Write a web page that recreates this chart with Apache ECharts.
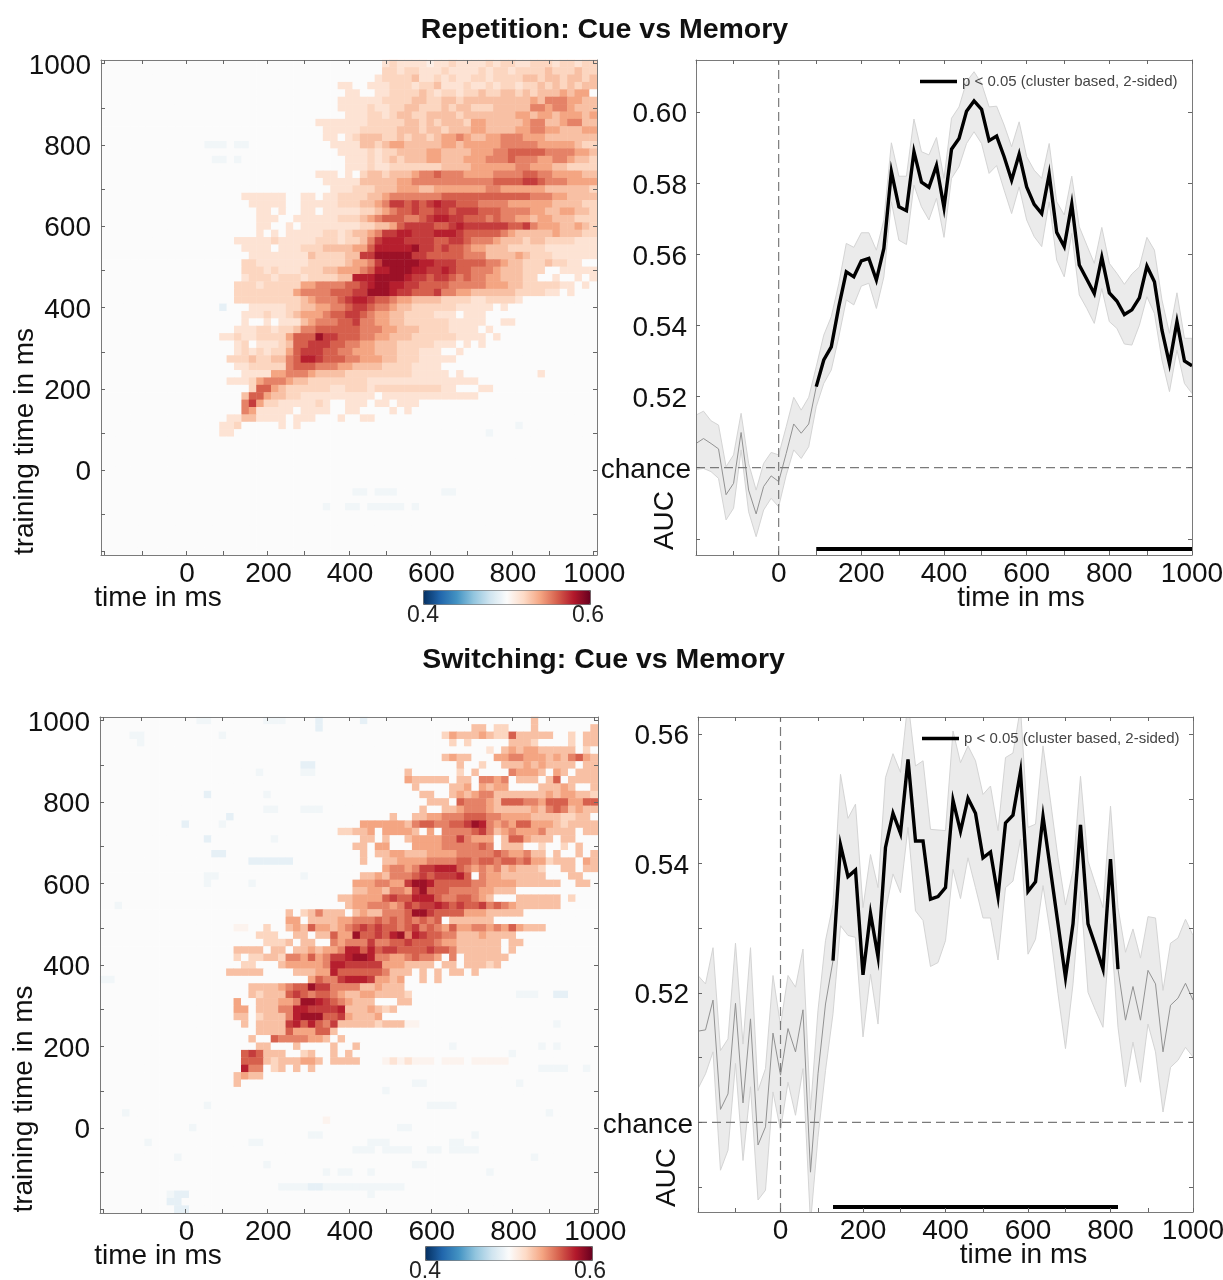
<!DOCTYPE html>
<html><head><meta charset="utf-8">
<script src="https://cdn.jsdelivr.net/npm/echarts@6/dist/echarts.min.js"></script>
<style>html,body{margin:0;padding:0;background:#fff}#c{width:1223px;height:1280px}</style>
</head><body><div id="c"></div>
<script>
const times=[-200,-181.8,-163.6,-145.5,-127.3,-109.1,-90.9,-72.7,-54.5,-36.4,-18.2,0,18.2,36.4,54.5,72.7,90.9,109.1,127.3,145.5,163.6,181.8,200,218.2,236.4,254.5,272.7,290.9,309.1,327.3,345.5,363.6,381.8,400,418.2,436.4,454.5,472.7,490.9,509.1,527.3,545.5,563.6,581.8,600,618.2,636.4,654.5,672.7,690.9,709.1,727.3,745.5,763.6,781.8,800,818.2,836.4,854.5,872.7,890.9,909.1,927.3,945.5,963.6,981.8,1000];
const tickTimes=[-200,-109,0,91,200,291,400,491,600,691,800,891,1000];
const timeLabels=[0,200,400,600,800,1000];
const aucTicksTop=[0.48,0.5,0.52,0.54,0.56,0.58,0.6];
const aucLabelsTop=[0.5,0.52,0.54,0.56,0.58,0.6];
const aucTicksBottom=[0.49,0.5,0.51,0.52,0.53,0.54,0.55,0.56];
const aucLabelsBottom=[0.5,0.52,0.54,0.56];
const titleTop="Repetition: Cue vs Memory";
const titleBottom="Switching: Cue vs Memory";
const legendLabel="p < 0.05 (cluster based, 2-sided)";

// colour levels of the time-generalisation cells
const levelValues={'.':0.5,'+':0.505,a:0.495,b:0.49,'0':0.508,'1':0.515,'2':0.522,'3':0.53,'4':0.54,'5':0.55,'6':0.56,'7':0.57,'8':0.578,'9':0.586};

// rows from training time 1000 (top) down to -200; "column:levels"
const repetitionRows=[
"38:12111101121111212211222122122",
"38:22122111211112122122223222322",
"37:122223112121122122223323323323",
"32:11..1112221223111211212212232323233",
"33:11..11222232122122322332323334344",
"32:11111122223322332333333333435554433",
"32:11112112233222323322233333554554333",
"33:1112212332233332333333344344344434",
"29:11111112222233232333244333334553345533",
"30:11111222223332332333443333445544333443",
"30:11.1233322323323445433445554443333333",
"14:aaa.aa 31:111133234433333443444445555544444322",
"32:11112122333344333344455666665555443",
"15:aa.a 33:1112123233344333444555655544554332",
"32:.1112112222222333344444455444332222",
"29:111.1.233233345565554444555566554444333",
"30:1111133333445555555555566667765554444",
"31:1112223334443344444445544444433333322",
"19:111111..11.112222334555555566666666666655544333322",
"20:11111..1111122233457767678776665555444444333322",
"21:11.1..11.1111122345667667767776665555443344332222",
"21:111..1111112223456665567887766656554434433322222",
"21:11..1.11111111223346777766787777776675444334322222",
"21:1.1.111112212334577887778887666665433333433322121",
"18:11111211111222122357888777766776555433323322221111",
"19:1111.1112223333446888889776766544333222221111111",
"20:11111111322223377999997766666555333343222111111",
"19:2211111112222234457999998877766665543322232211",
"19:22212111222334445688999887787665554333222..11111",
"19:1222122212222338889999877677656554433322..1..1.1",
"18:2221222224455556678998877666655555444332222211.1.",
"18:22222222455556667799987766675544333333222211.1..",
"18:222222222345556788766544333322221122221",
"16:b 20:111112233445567765543322222211111.1",
"19:11121123444566776544332222111.111.",
"19:1..1.1113455566755443322222211111..11",
"18:111221223556666665554433322221111.1",
"16:112112222466697766655443332222221111.1",
"18:12.111236677766554433322222111.1.1",
"18:1212122467776655444333222111..1",
"17:2223223356887666554443322211111",
"18:1122222566655544333322221111",
"19:1111445554333322222222211111.1..........1",
"17:1112455543322222222111111111111111",
"20:2664322222211222122222222211...11",
"19:366433221111111111.1111111111111",
"19:574221111121..111.11.111",
"19:5411111.1111..11....1.1",
"17:11331111.111...1..11",
"16:112.....1.1 56:a",
"16:11 52:a",
"","","","","","","",
"34:aa.aaa 46:aa",
"",
"30:a..aa.aaaaa.a",
"","","","","","",""];

const switchingRows=[
"13:aa 22:aaa 29:b 35:b 58:3",
"29:b 50:33.22...3.......3",
"4:aa 16:a 46:243334322633333..2.33",
"5:a 47:2.2.....3332....2.33",
"52:1.3434433333.2.2..1",
"46:3433...44554443435643",
"27:bb 48:3..2..3334343333.33",
"21:a 27:aa 41:3......2.3....54443.43.333",
"41:433333.33.5545.333.36.3333",
"42:3....334.4344....33343..3",
"14:b 22:a 43:33..34345533333334344332",
"44:333.6555436665546664466",
"22:aa 27:aaa 43:3..334555433333435653433",
"17:b 39:3..334455566655444433332233",
"11:b 16:a 35:44444435665566798545466444323333",
"32:22334.44443.4.555567534544453333.33",
"14:b 23:a 35:33.3..344445575444.3664333.33",
"34:33.44...44445555565.333..2..2.3..",
"15:bb 35:3.33443334444555556544533.3..3.33",
"20:bbbbbb 35:3..33444455556656656656442333.4333.344",
"38:4554577888654545343332..33.33",
"14:aa 27:a 35:334355567677786.544333333...33",
"14:a 20:a 34:4445544799866666554444333333..33.",
"34:3344355479666555544333",
"32:334444676688865566543...333333.2",
"2:a 33:34455545767787676675654333333",
"25:3.235333.34335556997666644433333",
"25:44.333344555656565656.333333.",
"18:++..2..34364434567676656756546445545464333",
"21:222..33.336449667689587665533343333",
"22:2223.33..54555755667666544333333.33",
"18:3333.33.3343445886867766667665333333.3",
"18:2.22332554645778998554456554.5.333333",
"19:22...344444588777774443333.33.33323",
"17:33333....3334486666665333.3.3.33.3",
"0:aa 28:4655788874434..3.3",
"20:333345669775555334333",
"20:3233367656654334433332 56:aaa 61:bb",
"18:4..3334459987654333...33",
"18:44.3335588777783334323",
"18:33.23335899966743334",
"19:3.33337868657333332333++ 61:a",
"21:33336444663",
"20:3..65555443.3",
"21:33...3....3..3 47:a 59:a 61:a",
"19:676333..23..3.3 55:a",
"19:66632333443.3333 38:+1+1+++.+++.+++++",
"19:855.23.3.3 59:aaaa 65:a",
"18:3433",
"18:3 42:aa 56:a",
"38:a",
"",
"14:a 44:aaaa",
"3:a 60:a",
"30:+",
"12:a 40:aa",
"28:aa 50:a",
"6:a 20:aa 36:aaa 47:aa",
"34:aaa.aaaa..aa.aaaa",
"10:a 58:a",
"22:a 42:aa",
"30:a.aa..a 52:a",
"",
"24:aaaabbaaaaaaaaaaa",
"9:abb 36:a",
"9:bb",
"10:bb"];

// Repetition decoding curve
const repMean=[.5068,.5082,.5068,.5053,.4924,.4956,.5099,.4937,.4870,.4947,.4977,.4961,.5040,.5123,.5097,.5123,.5228,.5303,.5340,.5453,.5551,.5537,.5582,.5589,.5528,.5617,.5833,.5734,.5723,.5889,.5803,.5789,.5850,.5732,.5896,.5926,.6003,.6032,.6008,.5920,.5933,.5875,.5809,.5882,.5790,.5741,.5715,.5826,.5662,.5622,.5742,.5570,.5530,.5490,.5592,.5492,.5469,.5431,.5444,.5478,.5567,.5523,.5387,.5292,.5411,.5300,.5287];
const repUpper=[.5148,.5159,.5132,.5120,.5003,.5036,.5153,.5012,.4937,.5012,.5043,.5036,.5115,.5198,.5162,.5198,.5284,.5373,.5425,.5518,.5631,.5620,.5661,.5661,.5612,.5697,.5914,.5820,.5820,.5981,.5889,.5880,.5929,.5814,.5983,.6015,.6086,.6114,.6081,.6015,.6017,.5964,.5903,.5973,.5875,.5837,.5814,.5912,.5748,.5711,.5820,.5678,.5626,.5575,.5676,.5575,.5547,.5516,.5545,.5565,.5648,.5612,.5472,.5378,.5492,.5364,.5364];
const repLower=[.4995,.4998,.4989,.4970,.4853,.4886,.5050,.4876,.4806,.4881,.4914,.4890,.4979,.5050,.5026,.5059,.5172,.5237,.5275,.5368,.5472,.5458,.5511,.5519,.5448,.5537,.5748,.5640,.5628,.5795,.5734,.5697,.5758,.5648,.5814,.5847,.5912,.5945,.5912,.5828,.5850,.5781,.5715,.5790,.5697,.5650,.5622,.5748,.5584,.5537,.5659,.5486,.5448,.5406,.5504,.5411,.5392,.5348,.5345,.5401,.5481,.5434,.5303,.5214,.5331,.5237,.5209];
const repSigFrom=16, repSigTo=66;
const repSigBar=[[90.9,0.4771],[1000,0.4771]];

// Switching decoding curve
const swiMean=[.5141,.5143,.5189,.5020,.5044,.5184,.5030,.5160,.4965,.4993,.5138,.5073,.5145,.5109,.5174,.4923,.5075,.5183,.5250,.5429,.5380,.5390,.5228,.5323,.5256,.5425,.5478,.5447,.5561,.5435,.5435,.5345,.5349,.5363,.5498,.5450,.5501,.5478,.5409,.5418,.5349,.5463,.5475,.5542,.5357,.5372,.5473,.5390,.5307,.5224,.5307,.5460,.5307,.5273,.5237,.5407,.5237,.5158,.5210,.5158,.5235,.5214,.5109,.5181,.5192,.5215,.5189];
const swiUpper=[.5227,.5214,.5270,.5111,.5129,.5277,.5121,.5270,.5049,.5083,.5227,.5150,.5227,.5209,.5268,.5019,.5173,.5281,.5337,.5538,.5470,.5492,.5332,.5414,.5363,.5533,.5570,.5541,.5651,.5551,.5559,.5453,.5452,.5451,.5605,.5556,.5582,.5559,.5507,.5520,.5451,.5564,.5571,.5641,.5456,.5461,.5582,.5497,.5409,.5336,.5389,.5535,.5404,.5368,.5332,.5489,.5332,.5263,.5299,.5254,.5318,.5316,.5204,.5277,.5285,.5314,.5289];
const swiLower=[.5052,.5075,.5109,.4926,.4957,.5091,.4941,.5055,.4880,.4895,.5047,.4988,.5062,.5011,.5083,.4844,.4977,.5080,.5168,.5304,.5289,.5286,.5132,.5229,.5152,.5327,.5384,.5355,.5456,.5327,.5312,.5241,.5247,.5281,.5391,.5346,.5409,.5363,.5316,.5316,.5251,.5363,.5373,.5438,.5260,.5283,.5366,.5291,.5199,.5114,.5214,.5358,.5201,.5173,.5147,.5307,.5147,.5055,.5124,.5062,.5152,.5109,.5016,.5085,.5096,.5116,.5101];
const swiSigFrom=18, swiSigTo=56;
const swiSigBar=[[127.3,0.4869],[818.2,0.4869]];

const chanceLevel=0.5;

function decodeRows(rows){
  const out=[];
  rows.forEach((r,j)=>{
    const cells=new Array(times.length).fill('.');
    r.split(' ').forEach(seg=>{
      if(!seg.includes(':'))return;
      const [c,s]=seg.split(':');
      [...s].forEach((ch,k)=>{const col=+c+k;if(col<times.length&&ch!=='.')cells[col]=ch;});
    });
    cells.forEach((ch,col)=>out.push([col,times.length-1-j,levelValues[ch]]));
  });
  return out;
}
const FONT='"Liberation Sans",Arial,sans-serif';
const frame={show:true,onZero:false,lineStyle:{color:'#7a7a7a',width:1}};
const tick=(vals)=>({show:true,inside:true,length:4,customValues:vals,lineStyle:{color:'#666',width:1}});
const lblStyle=(vals,fmt,m,extra)=>Object.assign({show:true,customValues:vals,formatter:fmt,margin:m,fontFamily:FONT,fontSize:28,color:'#111',hideOverlap:false,showMinLabel:true,showMaxLabel:true},extra||{});
const num=v=>String(Math.round(v));

const xAxis=[],yAxis=[],grid=[],series=[],visualMap=[],legend=[];
function addVal(arr,g,pos,min,max,ticks,labels,fmt,m,name,lblExtra){
  const ax={type:'value',gridIndex:g,position:pos,min,max,z:10,splitLine:{show:false},axisLine:frame,axisTick:tick(ticks),
    axisLabel:labels?lblStyle(labels,fmt,m,lblExtra):{show:false}};
  if(name)Object.assign(ax,name);
  arr.push(ax);return arr.length-1;
}
function nameOpt(text,gap,padding,rot){
  const o={name:text,nameLocation:'middle',nameGap:gap,nameMoveOverlap:false,nameTextStyle:{fontFamily:FONT,fontSize:28,color:'#111',padding}};
  if(rot!==undefined)o.nameRotate=rot;
  return o;
}
function addGrid(box){
  grid.push({left:box[0],top:box[1],width:box[2],height:box[3],containLabel:false,outerBoundsMode:'none'});
}
function heatPanel(g,box,rows,cbar){
  addGrid(box);
  const lo=-209.09,hi=1009.09;
  xAxis.push({type:'category',gridIndex:g,show:false,data:times});
  yAxis.push({type:'category',gridIndex:g,show:false,data:times});
  const xc=xAxis.length-1,yc=yAxis.length-1;
  addVal(xAxis,g,'bottom',lo,hi,tickTimes,timeLabels,num,5,nameOpt('time in ms',29,[0,382,0,0]),{padding:[0,0,0,2]});
  addVal(xAxis,g,'top',lo,hi,tickTimes,null);
  addVal(yAxis,g,'left',lo,hi,tickTimes,timeLabels,v=>'{n|'+num(v)+'}',10,nameOpt('training time in ms',62,[0,268,0,0],90),
    {rich:{n:{fontFamily:FONT,fontSize:28,color:'#111',padding:[5,0,0,0]}}});
  addVal(yAxis,g,'right',lo,hi,tickTimes,null);
  series.push({type:'heatmap',xAxisIndex:xc,yAxisIndex:yc,data:decodeRows(rows),silent:true,z:2,progressive:0,animation:false,itemStyle:{borderWidth:0}});
  visualMap.push({type:'continuous',seriesIndex:series.length-1,min:0.4,max:0.6,orient:'horizontal',left:cbar[0],top:cbar[1],itemWidth:14,itemHeight:cbar[2],
    calculable:false,hoverLink:false,text:null,showLabel:false,padding:0,borderColor:'#666',borderWidth:1,textStyle:{fontSize:1,color:'rgba(0,0,0,0)'},
    inRange:{color:['#053061','#2166ac','#4393c3','#92c5de','#d1e5f0','#fbfbfb','#fddbc7','#f4a582','#d6604d','#b2182b','#67001f']}});
}
function curvePanel(g,box,ymin,ymax,yt,yl,mean,up,low,sigFrom,sigTo,bar,legendPos,namePad){
  addGrid(box);
  const xi=addVal(xAxis,g,'bottom',-200,1000,tickTimes,timeLabels,num,5,nameOpt('time in ms',29,[0,0,0,namePad]));
  addVal(xAxis,g,'top',-200,1000,tickTimes,null);
  const yi=addVal(yAxis,g,'left',ymin,ymax,yt,yl,
    v=>Math.abs(v-chanceLevel)<1e-6?'{c|chance}':'{n|'+v.toFixed(2)+'}',5,nameOpt('AUC',17,[0,426,0,0],90),
    {rich:{n:{fontFamily:FONT,fontSize:28,color:'#111',padding:[5,4,0,0]},c:{fontFamily:FONT,fontSize:28,color:'#111',padding:[5,0,0,0]}}});
  addVal(yAxis,g,'right',ymin,ymax,yt,null);
  const base={type:'line',xAxisIndex:xi,yAxisIndex:yi,showSymbol:false,symbol:'none',silent:true,animation:false,clip:true};
  const pts=(a)=>a.map((v,i)=>[times[i],v]);
  series.push({type:'custom',coordinateSystem:'cartesian2d',name:'band '+g,xAxisIndex:xi,yAxisIndex:yi,clip:true,silent:true,animation:false,z:2,
    data:times.map((t,i)=>[t,up[i],low[i]]),encode:{x:0,y:[1,2]},
    renderItem:(p,api)=>{
      if(p.dataIndex!==0)return null;
      const top=times.map((t,i)=>api.coord([t,up[i]]));
      const bot=times.map((t,i)=>api.coord([t,low[i]])).reverse();
      return {type:'polygon',shape:{points:top.concat(bot)},style:{fill:'#ebebeb',stroke:'#d4d4d4',lineWidth:1}};
    }});
  series.push(Object.assign({},base,{name:'mean '+g,data:pts(mean),lineStyle:{color:'#929292',width:1},z:3}));
  series.push(Object.assign({},base,{name:'zero '+g,data:[[0,ymin],[0,ymax]],lineStyle:{color:'#7a7a7a',width:1.2,type:[9,5]},z:4}));
  series.push(Object.assign({},base,{name:'chance '+g,data:[[-200,chanceLevel],[1000,chanceLevel]],lineStyle:{color:'#7a7a7a',width:1.2,type:[9,5]},z:4}));
  series.push(Object.assign({},base,{name:legendLabel,data:pts(mean).slice(sigFrom,sigTo+1),itemStyle:{color:'#000'},lineStyle:{color:'#000',width:3.4,join:'miter'},z:6}));
  series.push(Object.assign({},base,{name:'sig bar '+g,data:bar,lineStyle:{color:'#000',width:4,cap:'butt'},z:6}));
  legend.push({data:[{name:legendLabel,icon:'rect'}],left:legendPos[0],top:legendPos[1],itemWidth:37,itemHeight:3.5,itemGap:7,padding:0,selectedMode:false,
    itemStyle:{color:'#000'},textStyle:{fontFamily:FONT,fontSize:15,color:'#444'}});
}
heatPanel(0,[101,60,496,495],repetitionRows,[423,590,167]);
curvePanel(1,[696,60,496,495],0.47544,0.6147,aucTicksTop,aucLabelsTop,repMean,repUpper,repLower,repSigFrom,repSigTo,repSigBar,[920,74],154);
heatPanel(2,[100,717,498,496],switchingRows,[425,1246,167]);
curvePanel(3,[698,717,495,495],0.48614,0.56267,aucTicksBottom,aucLabelsBottom,swiMean,swiUpper,swiLower,swiSigFrom,swiSigTo,swiSigBar,[922,731],156);

const titleStyle={fontFamily:FONT,fontSize:28.5,fontWeight:'bold',color:'#111'};
const cbText=(t,x,y)=>({type:'text',left:x,top:y,style:{text:t,font:'23px "Liberation Sans",Arial,sans-serif',fill:'#222'}});
const chart=echarts.init(document.getElementById('c'),null,{renderer:'canvas'});
chart.setOption({
  animation:false,backgroundColor:'#fff',
  title:[{text:titleTop,left:604.5,top:16,textAlign:'center',padding:0,textStyle:titleStyle},{text:titleBottom,left:603.5,top:646,textAlign:'center',padding:0,textStyle:titleStyle}],
  grid,xAxis,yAxis,series,visualMap,legend,
  graphic:[cbText('0.4',407,604),cbText('0.6',572,604),cbText('0.4',409,1260),cbText('0.6',574,1260)]
});
</script></body></html>
